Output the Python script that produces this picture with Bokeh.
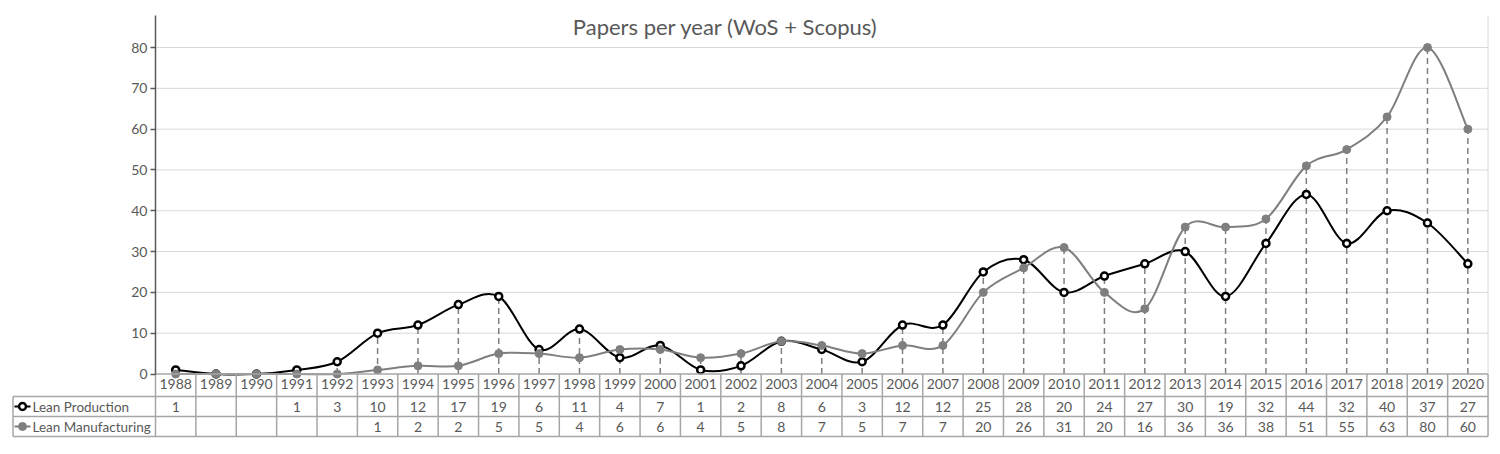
from bokeh.plotting import figure
from bokeh.models import Range1d, FixedTicker
from bokeh.core.properties import value
from bokeh.embed import file_html
from bokeh.resources import INLINE

# ---------------- data ----------------
years = list(range(1988, 2021))
lean_production = [1, None, None, 1, 3, 10, 12, 17, 19, 6, 11, 4, 7, 1, 2, 8, 6, 3,
                   12, 12, 25, 28, 20, 24, 27, 30, 19, 32, 44, 32, 40, 37, 27]
lean_manufacturing = [None, None, None, None, None, 1, 2, 2, 5, 5, 4, 6, 6, 4, 5, 8, 7, 5,
                      7, 7, 20, 26, 31, 20, 16, 36, 36, 38, 51, 55, 63, 80, 60]
y_ticks = [0, 10, 20, 30, 40, 50, 60, 70, 80]
series_names = ["Lean Production", "Lean Manufacturing"]
title_text = "Papers per year (WoS + Scopus)"

# ---------------- layout helpers (page pixels -> data units) ----------------
PX_X0 = 155.0      # left edge of first category column
CAT_W = 40.38      # width of one category column
PX_Y0 = 373.5      # pixel row of value 0
PX_PER_Y = 4.081   # pixels per unit of value


def dx(px):
    return -0.5 + (px - PX_X0) / CAT_W


def dy(py):
    return (PX_Y0 - py) / PX_PER_Y


FONT = "Lato"
TXT = "#595959"
TABLE = "#a6a6a6"
GRID = "#d9d9d9"
GREY = "#7f7f7f"

n = len(years)
xs = list(range(n))
lp0 = [v if v is not None else 0 for v in lean_production]
lm0 = [v if v is not None else 0 for v in lean_manufacturing]

p = figure(width=1492, height=444, output_backend="svg", toolbar_location=None,
           min_border_left=10, min_border_right=0, min_border_top=10, min_border_bottom=0,
           x_range=Range1d(dx(10), dx(1492)), y_range=Range1d(dy(444), dy(10)))
p.outline_line_color = None
p.xgrid.visible = False
p.ygrid.visible = False

y_top = dy(15)

# y axis (placed at the left edge of the category area)
ya = p.yaxis[0]
ya.fixed_location = -0.5
ya.bounds = (0, y_top)
ya.ticker = FixedTicker(ticks=y_ticks)
ya.axis_line_color = "#595959"
ya.axis_line_width = 1.5
ya.major_tick_line_color = "#595959"
ya.major_tick_line_width = 1.5
ya.major_tick_out = 5
ya.major_tick_in = 0
ya.minor_tick_line_color = None
ya.major_label_standoff = 3
ya.major_label_text_font = FONT
ya.major_label_text_font_size = "14px"
ya.major_label_text_color = TXT

# x axis: years in the header row of the data table
xa = p.xaxis[0]
xa.fixed_location = 0
xa.ticker = FixedTicker(ticks=xs)
xa.major_label_overrides = {i: str(y) for i, y in zip(xs, years)}
xa.axis_line_color = None
xa.major_tick_line_color = None
xa.minor_tick_line_color = None
xa.major_tick_out = 0
xa.major_tick_in = 0
xa.major_label_standoff = 5
xa.major_label_text_font = FONT
xa.major_label_text_font_size = "14px"
xa.major_label_text_color = TXT

# gridlines
grid_y = [t for t in y_ticks if t > 0]
p.segment(x0=[-0.5] * len(grid_y), y0=grid_y, x1=[n - 0.5] * len(grid_y), y1=grid_y,
          line_color=GRID, line_width=1)
# right border of plot area
p.segment(x0=[n - 0.5], y0=[0], x1=[n - 0.5], y1=[y_top], line_color=GRID, line_width=1)

# drop lines
tops = [max(a, b) for a, b in zip(lp0, lm0)]
p.segment(x0=xs, y0=[0] * n, x1=xs, y1=tops, line_color=GREY, line_width=1.5,
          line_dash="6 4")


def smooth(vals):
    m = len(vals)
    x0, y0, x1, y1, cx0, cy0, cx1, cy1 = [], [], [], [], [], [], [], []
    for i in range(m - 1):
        ip = i - 1 if i > 0 else i
        i2 = i + 2 if i + 2 < m else i + 1
        x0.append(i); y0.append(vals[i])
        x1.append(i + 1); y1.append(vals[i + 1])
        cx0.append(i + (i + 1 - ip) / 6.0)
        cy0.append(vals[i] + (vals[i + 1] - vals[ip]) / 6.0)
        cx1.append(i + 1 - (i2 - i) / 6.0)
        cy1.append(vals[i + 1] - (vals[i2] - vals[i]) / 6.0)
    return dict(x0=x0, y0=y0, x1=x1, y1=y1, cx0=cx0, cy0=cy0, cx1=cx1, cy1=cy1)


b = smooth(lp0)
p.bezier(**b, line_color="black", line_width=2)
p.scatter(xs, lp0, size=7, fill_color="white", line_color="black", line_width=2.5)
b = smooth(lm0)
p.bezier(**b, line_color=GREY, line_width=2)
p.scatter(xs, lm0, size=8, fill_color=GREY, line_color=GREY, line_width=1)

# title
p.text(x=[dx(725)], y=[dy(26)], text=[title_text], text_font=value(FONT),
       text_font_size="22px", text_color=TXT, text_align="center", text_baseline="middle")

# data table
r1, r2, r3 = dy(396), dy(416), dy(436)
tleft = dx(12.5)
p.segment(x0=[-0.5, tleft, tleft, tleft], y0=[0, r1, r2, r3],
          x1=[n - 0.5] * 4, y1=[0, r1, r2, r3], line_color=TABLE, line_width=1.5)
vx = [k - 0.5 for k in range(n + 1)]
p.segment(x0=vx, y0=[0] * len(vx), x1=vx, y1=[r3] * len(vx), line_color=TABLE, line_width=1.5)
p.segment(x0=[tleft], y0=[r1], x1=[tleft], y1=[r3], line_color=TABLE, line_width=1.5)

c_lp, c_lm = dy(406), dy(426)
lp_x = [i for i, v in zip(xs, lean_production) if v is not None]
lp_t = [str(v) for v in lean_production if v is not None]
lm_x = [i for i, v in zip(xs, lean_manufacturing) if v is not None]
lm_t = [str(v) for v in lean_manufacturing if v is not None]
p.text(x=lp_x, y=[c_lp] * len(lp_x), text=lp_t, text_font=value(FONT), text_font_size="14px",
       text_color=TXT, text_align="center", text_baseline="middle")
p.text(x=lm_x, y=[c_lm] * len(lm_x), text=lm_t, text_font=value(FONT), text_font_size="14px",
       text_color=TXT, text_align="center", text_baseline="middle")

# legend keys in the table
p.segment(x0=[dx(14)], y0=[c_lp], x1=[dx(30)], y1=[c_lp], line_color="black", line_width=2)
p.scatter([dx(22)], [c_lp], size=7, fill_color="white", line_color="black", line_width=2.5)
p.segment(x0=[dx(14)], y0=[c_lm], x1=[dx(30)], y1=[c_lm], line_color=GREY, line_width=2)
p.scatter([dx(22)], [c_lm], size=8, fill_color=GREY, line_color=GREY)
p.text(x=[dx(32), dx(32)], y=[c_lp, c_lm], text=series_names, text_font=value(FONT),
       text_font_size="13.5px", text_color=TXT, text_align="left", text_baseline="middle")

open("out.html", "w").write(file_html(p, INLINE))
